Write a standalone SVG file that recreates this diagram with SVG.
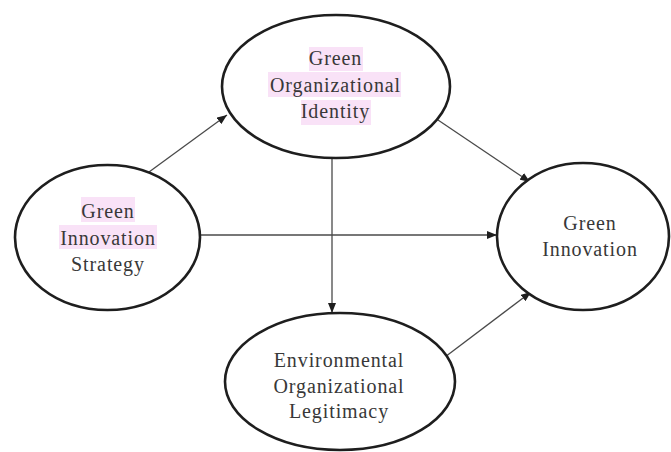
<svg xmlns="http://www.w3.org/2000/svg" width="671" height="452" viewBox="0 0 671 452">
  <style>
    .node { fill: #ffffff; stroke: #1e1e1e; stroke-width: 2.6; }
    .label { font-family: "Liberation Serif", "Times New Roman", serif; font-size: 20px; letter-spacing: 0.9px; fill: #383838; text-anchor: middle; }
    .mark { fill: #f9e2f7; }
    .edge { stroke: #4a4a4a; stroke-width: 1.3; fill: none; marker-end: url(#arrow); }
  </style>
  <defs>
    <marker id="arrow" markerUnits="userSpaceOnUse" viewBox="0 0 10 8" refX="10" refY="4" markerWidth="10" markerHeight="8" orient="auto">
      <path d="M0,0 L10,4 L0,8 Z" fill="#1e1e1e"/>
    </marker>
  </defs>
  <rect width="671" height="452" fill="#ffffff"/>

  <g id="connectors">
    <line class="edge" x1="149" y1="172" x2="227" y2="115"/>
    <line class="edge" x1="438" y1="120" x2="530" y2="182"/>
    <line class="edge" x1="200" y1="235" x2="497" y2="235"/>
    <line class="edge" x1="332" y1="158" x2="332" y2="313"/>
    <line class="edge" x1="445" y1="357" x2="531" y2="292"/>
  </g>

  <g id="green-organizational-identity">
    <ellipse class="node" cx="336" cy="86.5" rx="114" ry="71.5"/>
    <rect class="mark" x="309" y="47" width="54" height="24"/>
    <rect class="mark" x="268" y="72" width="133" height="25"/>
    <rect class="mark" x="301" y="100" width="70" height="25"/>
    <text class="label" x="335.5" y="65">Green</text>
    <text class="label" x="335.5" y="92">Organizational</text>
    <text class="label" x="335.5" y="118">Identity</text>
  </g>

  <g id="green-innovation-strategy">
    <ellipse class="node" cx="107.5" cy="237.5" rx="92.5" ry="72.5"/>
    <rect class="mark" x="81" y="197" width="54" height="25"/>
    <rect class="mark" x="59" y="225" width="98" height="24"/>
    <text class="label" x="108" y="218">Green</text>
    <text class="label" x="108" y="245">Innovation</text>
    <text class="label" x="108" y="271">Strategy</text>
  </g>

  <g id="green-innovation">
    <ellipse class="node" cx="583" cy="236.5" rx="86" ry="73.5"/>
    <text class="label" x="590" y="230">Green</text>
    <text class="label" x="590" y="256">Innovation</text>
  </g>

  <g id="environmental-organizational-legitimacy">
    <ellipse class="node" cx="340" cy="381.5" rx="115" ry="68.5"/>
    <text class="label" x="339" y="367">Environmental</text>
    <text class="label" x="339" y="393">Organizational</text>
    <text class="label" x="339" y="418">Legitimacy</text>
  </g>
</svg>
